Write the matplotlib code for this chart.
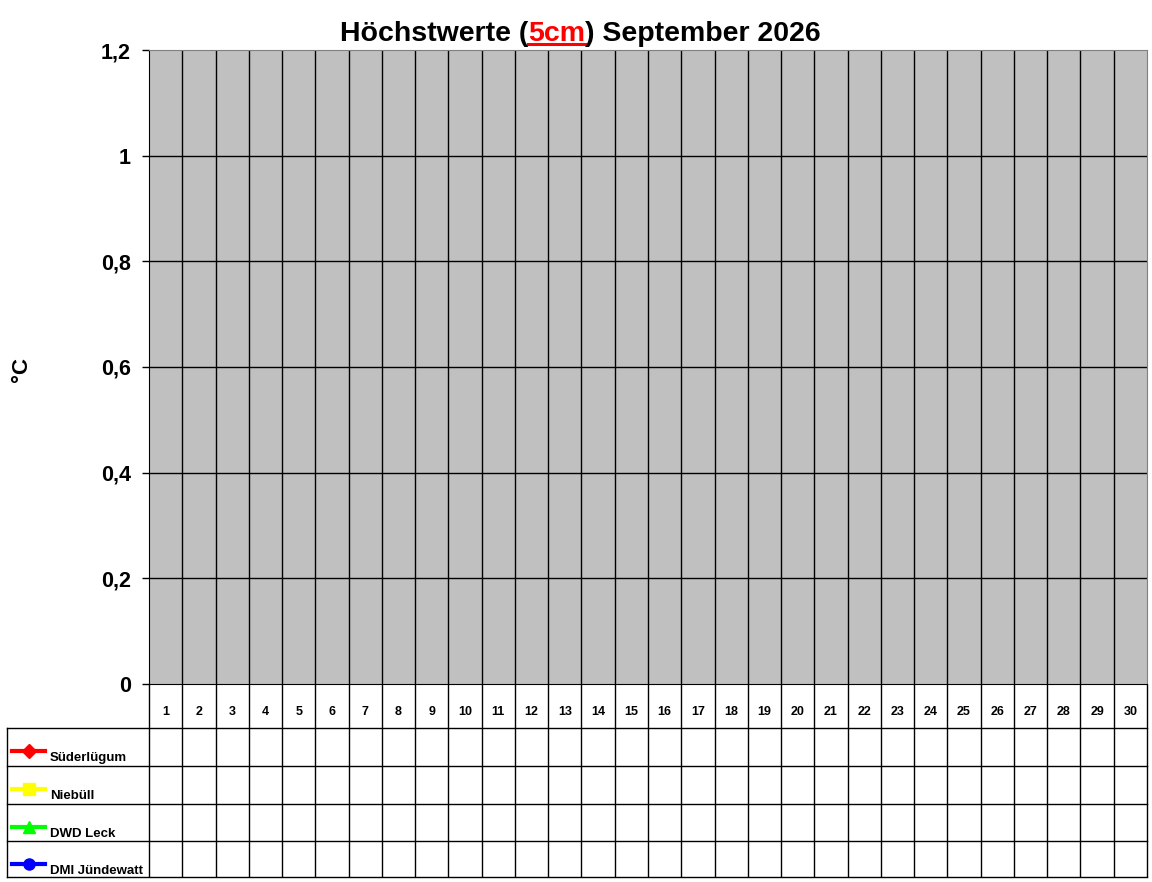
import numpy as np
import matplotlib
matplotlib.use("Agg")
import matplotlib.pyplot as plt
from matplotlib.lines import Line2D

plt.rcParams['font.family'] = ['Liberation Sans', 'DejaVu Sans']
plt.rcParams['font.weight'] = 'bold'

# data (month without readings yet)
days = list(range(1, 31))
stations = ["Süderlügum", "Niebüll", "DWD Leck", "DMI Jündewatt"]
colors = ["#ff0000", "#ffff00", "#00ff00", "#0000ff"]
markers = ["D", "s", "^", "o"]
suederluegum = [np.nan] * 30
niebuell = [np.nan] * 30
dwd_leck = [np.nan] * 30
dmi_juendewatt = [np.nan] * 30
values = [suederluegum, niebuell, dwd_leck, dmi_juendewatt]
yticks = [0, 0.2, 0.4, 0.6, 0.8, 1.0, 1.2]
ytick_labels = ["0", "0,2", "0,4", "0,6", "0,8", "1", "1,2"]

W, H = 1152, 882
fig = plt.figure(figsize=(W / 100, H / 100), dpi=100)

# pixel layout
px_l, px_r, px_t, px_b = 149, 1147, 50, 684
ax = fig.add_axes([px_l / W, (H - px_b) / H, (px_r - px_l) / W, (px_b - px_t) / H])
ax.set_facecolor("#c0c0c0")
ax.set_xlim(0.5, 30.5)
ax.set_ylim(0, 1.2)

for s in ["top", "right"]:
    ax.spines[s].set_color("#808080")
for s in ["left", "bottom"]:
    ax.spines[s].set_color("black")

ax.set_yticks(yticks)
ax.set_yticklabels(ytick_labels, fontsize=15.5, fontweight="bold")
ax.tick_params(axis="y", direction="out", length=5, width=1, pad=8)
ax.set_xticks([])

for y in yticks[1:-1]:
    ax.axhline(y, color="black", lw=1, zorder=1)

for v, c, m in zip(values, colors, markers):
    ax.plot(days, v, color=c, marker=m, lw=3, zorder=3)


def yfrac(p):
    return (px_b - p) / (px_b - px_t)


def xfrac(p):
    return (p - px_l) / (px_r - px_l)


tab_top, tab_bot = 728, 877
row_lines = [728, 766, 804, 841, 877]
left_edge = 7

# vertical category lines through plot, header row and table
xt = ax.get_xaxis_transform()
for b in np.arange(1.5, 30.5, 1):
    ax.vlines(b, yfrac(tab_bot), 1, transform=xt, color="black", lw=1, clip_on=False, zorder=2)
for b in [0.5, 30.5]:
    ax.vlines(b, yfrac(tab_bot), 0, transform=xt, color="black", lw=1, clip_on=False, zorder=2)
ax.add_line(Line2D([xfrac(left_edge)] * 2, [yfrac(tab_top), yfrac(tab_bot)],
                   transform=ax.transAxes, color="black", lw=1, clip_on=False))
for r in row_lines:
    ax.add_line(Line2D([xfrac(left_edge), 1], [yfrac(r)] * 2,
                       transform=ax.transAxes, color="black", lw=1, clip_on=False))

# day numbers
for d in days:
    ax.text(d, yfrac(712), str(d), transform=xt, ha="center", va="center",
            fontsize=9, fontweight="bold", clip_on=False)

# legend keys + table cells
for i, (name, c, m, v) in enumerate(zip(stations, colors, markers, values)):
    top = row_lines[i]
    ly = yfrac(top + 23)
    ax.add_line(Line2D([xfrac(12), xfrac(45)], [ly, ly], transform=ax.transAxes,
                       color=c, lw=3, clip_on=False))
    ax.add_line(Line2D([xfrac(28.5)], [ly], transform=ax.transAxes, color=c,
                       marker=m, markersize=8 if m != "D" else 7, clip_on=False))
    ax.text(xfrac(50), yfrac(top + 30), name, transform=ax.transAxes,
            ha="left", va="center", fontsize=9.5, fontweight="bold", clip_on=False)
    for d, val in zip(days, v):
        if not np.isnan(val):
            ax.text(d, yfrac(top + 19), f"{val:.1f}".replace(".", ","), transform=xt,
                    ha="center", va="center", fontsize=8.5, clip_on=False)

# y label
fig.text(22 / W, 1 - 369 / H, "°C", rotation=90, ha="center", va="center",
         fontsize=16, fontweight="bold")

# title with red underlined part
parts = [("Höchstwerte (", "black"), ("5cm", "red"), (") September 2026", "black")]
fig.canvas.draw()
r = fig.canvas.get_renderer()
texts = []
for s, c in parts:
    t = fig.text(0, 1 - 41 / H, s, color=c, fontsize=20.5, fontweight="bold",
                 ha="left", va="baseline")
    texts.append(t)
widths = [t.get_window_extent(r).width for t in texts]
x0 = 580 - sum(widths) / 2
for t, w in zip(texts, widths):
    t.set_x(x0 / W)
    if t.get_color() == "red":
        fig.add_artist(Line2D([x0 / W, (x0 + w) / W], [1 - 44 / H] * 2,
                              color="red", lw=2.2, transform=fig.transFigure))
    x0 += w

fig.savefig("out.png", dpi=100, facecolor="white")
